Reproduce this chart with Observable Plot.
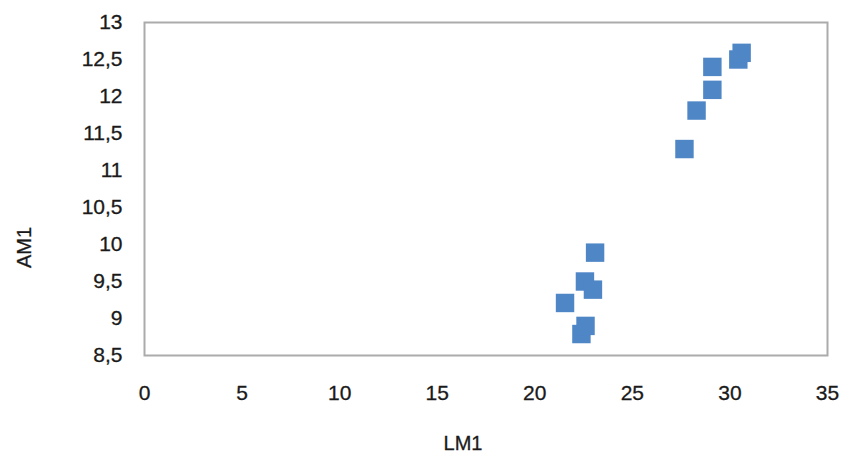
<!DOCTYPE html>
<html>
<head>
<meta charset="utf-8">
<script src="https://cdn.jsdelivr.net/npm/d3@7"></script>
<script src="https://cdn.jsdelivr.net/npm/@observablehq/plot@0.6"></script>
<style>
  html, body { margin: 0; padding: 0; background: #fff; }
  #chart svg { display: block; }
  #chart svg text { stroke: currentColor; stroke-width: 0.3px; }
</style>
</head>
<body>
<div id="chart"></div>
<script>
const lm1 = [21.55, 22.39, 22.6, 22.57, 22.98, 23.09, 27.67, 28.29, 29.1, 29.1, 30.43, 30.6];
const am1 = [9.21, 8.79, 8.90, 9.50, 9.39, 9.89, 11.29, 11.81, 12.09, 12.40, 12.50, 12.59];
const xTicks = [0, 5, 10, 15, 20, 25, 30, 35];
const yTicks = [8.5, 9, 9.5, 10, 10.5, 11, 11.5, 12, 12.5, 13];
const xTitle = "LM1";
const yTitle = "AM1";

const data = lm1.map((x, i) => ({x, y: am1[i]}));
const fmt = d => String(d).replace(".", ",");

const chart = Plot.plot({
  width: 855,
  height: 456,
  marginLeft: 144,
  marginRight: 28,
  marginTop: 22,
  marginBottom: 101,
  style: {fontFamily: "'Liberation Sans', Arial, sans-serif", fontSize: "21px", color: "#1a1a1a", background: "#fff"},
  x: {domain: [0, 35]},
  y: {domain: [8.5, 13]},
  marks: [
    Plot.frame({stroke: "#ababab", strokeWidth: 2}),
    Plot.axisX({ticks: xTicks, tickFormat: fmt, tickSize: 0, tickPadding: 30, label: null, fontSize: 21}),
    Plot.axisY({ticks: yTicks, tickFormat: fmt, tickSize: 0, tickPadding: 22, label: null, fontSize: 21}),
    Plot.dot(data, {x: "x", y: "y", symbol: "square", r: 10.4, fill: "#4f86c6", stroke: "none"}),
    Plot.text([xTitle], {frameAnchor: "bottom", dy: 94, dx: -23, text: d => d, fontSize: 20, fill: "#1a1a1a"}),
    Plot.text([yTitle], {frameAnchor: "left", dx: -120, dy: 79, rotate: -90, text: d => d, fontSize: 20, fill: "#1a1a1a"})
  ]
});
document.getElementById("chart").appendChild(chart);
</script>
</body>
</html>
